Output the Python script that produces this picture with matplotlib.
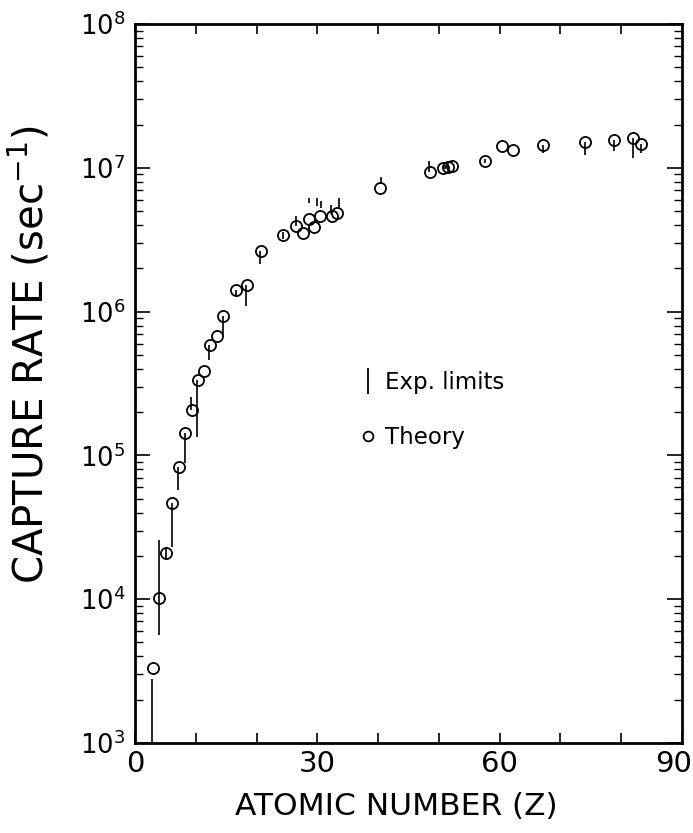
import matplotlib
matplotlib.use("Agg")
import matplotlib.pyplot as plt
from matplotlib.lines import Line2D
from matplotlib.ticker import LogLocator, FixedLocator, NullFormatter
from matplotlib.transforms import ScaledTranslation

plt.rcParams['font.family'] = ['DejaVu Sans']
plt.rcParams['mathtext.default'] = 'regular'

# Theory values (circles)
theory_z = [3.0, 4.0, 5.1, 6.1, 7.2, 8.2, 9.4, 10.4, 11.3, 12.3, 13.5, 14.5,
            16.6, 18.4, 20.7, 24.3, 26.5, 27.6, 28.6, 29.4, 30.4, 32.4, 33.2,
            40.3, 48.5, 50.7, 51.5, 52.1, 57.6, 60.4, 62.2, 67.1, 74.0, 78.8,
            81.9, 83.2]
theory_rate = [3.3e3, 1.02e4, 2.1e4, 4.67e4, 8.3e4, 1.43e5, 2.07e5, 3.34e5,
               3.86e5, 5.86e5, 6.77e5, 9.3e5, 1.41e6, 1.53e6, 2.64e6, 3.41e6,
               3.94e6, 3.52e6, 4.41e6, 3.88e6, 4.62e6, 4.62e6, 4.85e6, 7.24e6,
               9.35e6, 9.97e6, 1.01e7, 1.03e7, 1.12e7, 1.42e7, 1.33e7, 1.44e7,
               1.51e7, 1.56e7, 1.61e7, 1.47e7]

# Experimental limits (vertical bars)
exp_z = [2.8, 3.95, 5.1, 6.1, 7.1, 8.2, 9.2, 10.2, 12.2, 14.5, 16.6, 18.3,
         20.6, 24.3, 26.5, 28.6, 29.9, 30.6, 32.2, 33.6, 40.5, 48.4, 51.0,
         57.6, 67.1, 74.0, 78.8, 81.9, 83.2]
exp_low = [1.0e3, 5.64e3, 1.9e4, 2.31e4, 5.74e4, 8.85e4, 2.07e5, 1.34e5,
           4.6e5, 6.87e5, 1.28e6, 1.09e6, 2.14e6, 3.2e6, 3.94e6, 5.7e6,
           5.4e6, 5.25e6, 4.8e6, 5.25e6, 7.7e6, 9.4e6, 9.8e6, 1.08e7,
           1.27e7, 1.23e7, 1.31e7, 1.17e7, 1.27e7]
exp_high = [2.8e3, 2.58e4, 2.3e4, 4.67e4, 8.3e4, 1.43e5, 2.55e5, 3.34e5,
            5.86e5, 9.3e5, 1.41e6, 1.53e6, 2.64e6, 3.6e6, 4.62e6, 6.2e6,
            6.2e6, 5.9e6, 5.5e6, 6.2e6, 8.6e6, 1.11e7, 1.05e7, 1.16e7,
            1.44e7, 1.51e7, 1.56e7, 1.61e7, 1.47e7]

x_major = [0, 30, 60, 90]
x_minor = [10, 20, 40, 50, 70, 80]

fig = plt.figure(figsize=(6.93, 8.33), dpi=100)
ax = fig.add_axes([135/693, 90/833, 547/693, 719/833])

ax.vlines(exp_z, exp_low, exp_high, color='black', lw=1.2)
ax.plot(theory_z, theory_rate, 'o', mfc='none', mec='black', ms=8, mew=1.3,
        ls='none')

ax.set_yscale('log')
ax.set_xlim(0, 90)
ax.set_ylim(1e3, 1e8)

ax.xaxis.set_major_locator(FixedLocator(x_major))
ax.xaxis.set_minor_locator(FixedLocator(x_minor))
ax.yaxis.set_major_locator(LogLocator(base=10))
ax.yaxis.set_minor_locator(LogLocator(base=10, subs=range(2, 10)))
ax.yaxis.set_minor_formatter(NullFormatter())

ax.tick_params(axis='x', which='both', direction='in', top=True, length=7,
               width=1.2, labelsize=21, pad=5)
ax.tick_params(axis='y', which='major', direction='in', right=True, length=11,
               width=1.2, labelsize=18.5, pad=7)
ax.tick_params(axis='y', which='minor', direction='in', right=True, length=6,
               width=1.0)

for sp in ax.spines.values():
    sp.set_linewidth(2.0)

ax.set_xlabel('ATOMIC NUMBER (Z)', fontsize=22.5)
ax.xaxis.set_label_coords(0.477, -0.068)
ax.set_ylabel('CAPTURE RATE (sec$^{-1}$)', fontsize=29)
ax.yaxis.set_label_coords(-0.150, 0.54)

handles = [Line2D([], [], marker='|', ls='none', color='black', ms=19, mew=1.3),
           Line2D([], [], marker='o', ls='none', mfc='none', mec='black', ms=7,
                  mew=1.3)]
ax.legend(handles, ['Exp. limits', 'Theory'], frameon=False, fontsize=16.5,
          loc='center left', bbox_to_anchor=(0.405, 0.463), handlelength=1.0,
          handletextpad=0.25, labelspacing=1.42, borderpad=0, borderaxespad=0)

fig.canvas.draw()
last = ax.get_xticklabels()[-1]
last.set_transform(last.get_transform() + ScaledTranslation(-8/100, 0, fig.dpi_scale_trans))

fig.savefig('out.png', dpi=100)
